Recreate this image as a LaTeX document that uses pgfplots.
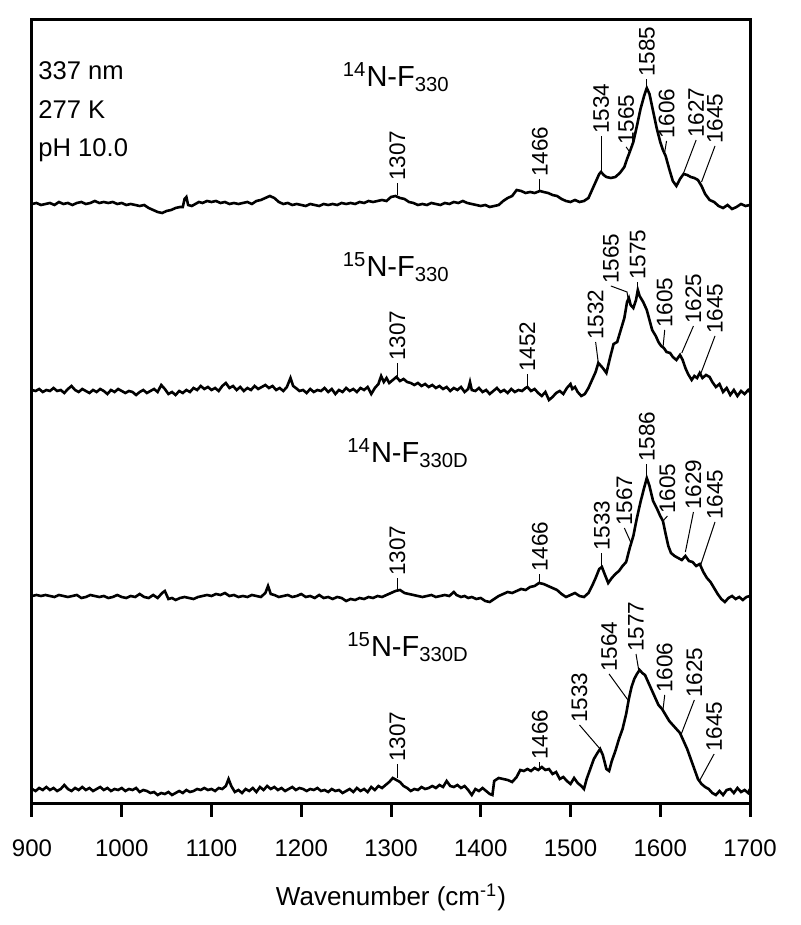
\documentclass[border=0pt]{standalone}
\usepackage{fontspec}
\setmainfont{Liberation Sans}
\usepackage{pgfplots}
\pgfplotsset{compat=1.18}
\usepackage{pgfplotstable}

% 14N-F330 (intensity above its own baseline)
\pgfplotstableread{
x y
900 0
905 1
910 -1
915 0
920 1
925 -1
930 2
935 0
940 1
945 -1
950 1
955 2
960 0
965 1
970 3
975 1
980 2
985 1
990 2
995 0
1000 1
1005 -1
1010 0
1015 -1
1020 -2
1025 -1
1030 -4
1035 -6
1040 -8
1045 -9
1050 -7
1055 -6
1060 -4
1065 -3
1068 -3
1070 5
1072 7
1074 -1
1078 -2
1082 0
1086 2
1090 1
1095 3
1100 2
1105 3
1110 1
1115 2
1120 0
1125 1
1130 0
1135 1
1140 2
1145 0
1150 3
1155 4
1160 6
1165 8
1170 6
1175 2
1180 0
1185 1
1190 -1
1195 0
1200 -1
1205 -2
1210 0
1215 -1
1220 -2
1225 0
1230 -1
1235 0
1240 -1
1245 1
1250 0
1255 1
1260 0
1265 2
1270 1
1275 3
1280 2
1285 3
1290 4
1295 3
1300 7
1305 8
1310 6
1315 5
1320 2
1325 1
1330 -1
1335 0
1340 -1
1345 1
1350 0
1355 -1
1360 1
1365 0
1370 2
1375 1
1380 3
1385 1
1390 0
1395 -1
1400 -2
1405 -1
1410 -3
1415 -2
1420 -1
1425 3
1430 6
1435 8
1440 14
1445 13
1450 11
1455 12
1460 11
1466 13
1470 12
1475 11
1480 9
1485 8
1490 5
1495 3
1500 2
1505 4
1510 2
1515 3
1520 6
1524 14
1528 22
1532 30
1534 32
1537 29
1540 27
1545 26
1550 27
1555 31
1560 37
1563 45
1566 52
1570 62
1574 78
1578 95
1582 108
1585 116
1588 110
1592 93
1596 76
1600 62
1603 54
1606 48
1610 35
1614 23
1618 18
1622 25
1626 30
1630 29
1634 27
1638 26
1642 24
1646 18
1650 10
1655 4
1660 2
1665 -2
1670 -4
1675 -1
1680 -5
1685 -3
1690 0
1695 -2
1700 -1
}\traceA

% 15N-F330
\pgfplotstableread{
x y
900 0
904 -1
908 1
912 -2
916 0
920 -1
924 2
928 -1
932 0
936 -3
940 1
944 4
948 0
952 -2
956 1
960 -1
964 -3
968 0
972 -2
976 1
980 -1
984 -4
988 0
992 -2
996 1
1000 -1
1004 -3
1008 -1
1012 -2
1016 -5
1020 -2
1024 0
1028 -3
1032 -1
1036 1
1040 -2
1044 5
1048 1
1052 -4
1056 -2
1060 -5
1064 -1
1068 -3
1072 0
1076 -2
1080 2
1084 0
1088 4
1092 1
1096 3
1100 0
1104 2
1108 -1
1112 4
1116 7
1120 2
1124 4
1128 0
1132 3
1136 -1
1140 2
1144 0
1148 4
1152 1
1156 3
1160 5
1164 2
1168 4
1172 0
1176 2
1180 -1
1184 3
1188 12
1191 4
1194 2
1198 -1
1202 0
1206 -3
1210 1
1214 -2
1218 0
1222 -1
1226 2
1230 -2
1234 1
1238 -4
1242 0
1246 -2
1250 2
1254 -1
1258 1
1262 -2
1266 2
1270 0
1274 3
1278 -4
1282 2
1286 6
1289 14
1292 8
1295 12
1298 7
1302 10
1306 13
1310 9
1314 11
1318 8
1322 7
1326 5
1330 7
1334 4
1338 6
1342 3
1346 5
1350 2
1354 4
1358 1
1362 3
1366 -1
1370 2
1374 0
1378 3
1382 -2
1386 1
1388 8
1390 0
1394 -1
1398 2
1402 -2
1406 0
1410 -4
1414 -1
1418 2
1422 -2
1426 0
1430 -3
1434 1
1438 -2
1442 0
1446 -1
1450 2
1452 3
1456 -1
1460 1
1464 -3
1468 -6
1472 -2
1476 -10
1480 -7
1484 -3
1488 -1
1492 -4
1496 2
1500 6
1502 1
1505 3
1508 -2
1512 -6
1516 -4
1520 2
1524 10
1528 18
1531 27
1536 22
1540 17
1544 32
1548 46
1552 48
1556 60
1560 72
1563 88
1565 92
1567 85
1570 82
1573 90
1575 100
1577 94
1581 88
1585 80
1588 70
1591 60
1595 54
1598 48
1601 44
1604 42
1607 38
1611 37
1614 33
1618 30
1622 35
1625 30
1628 22
1631 16
1635 10
1638 14
1641 12
1644 17
1647 12
1651 15
1655 13
1658 8
1662 3
1666 6
1670 -2
1674 2
1678 -5
1682 0
1686 -6
1690 -1
1694 -4
1698 0
1700 -2
}\traceB

% 14N-F330D
\pgfplotstableread{
x y
900 0
905 1
910 0
915 1
920 0
925 -1
930 1
935 0
940 -1
945 0
950 1
955 -2
960 -1
965 1
970 0
975 -1
980 0
985 -2
990 -1
995 1
1000 -1
1005 -2
1010 0
1015 -1
1020 2
1025 -1
1030 -2
1035 1
1040 -2
1045 3
1048 5
1052 -3
1056 -2
1060 -4
1065 -2
1070 -1
1075 -2
1080 -3
1085 -1
1090 0
1095 1
1100 0
1105 2
1110 1
1115 3
1120 0
1125 1
1130 -1
1135 0
1140 -1
1145 1
1150 0
1155 -1
1160 3
1163 10
1166 2
1170 1
1175 -1
1180 0
1185 1
1190 -1
1195 0
1200 2
1205 -1
1210 0
1215 -2
1220 1
1225 -2
1230 -1
1235 -3
1240 -1
1245 -2
1250 -5
1255 -3
1260 -4
1265 -2
1270 -3
1275 -1
1280 -2
1285 0
1290 -1
1295 1
1300 3
1305 5
1310 6
1315 3
1320 2
1325 1
1330 0
1335 -1
1340 0
1345 1
1350 -1
1355 0
1360 1
1365 0
1370 4
1373 1
1378 -1
1382 0
1386 -2
1390 -1
1395 -3
1400 -2
1405 -5
1410 -6
1415 -3
1420 0
1425 2
1430 4
1435 3
1440 5
1445 7
1450 6
1455 9
1460 10
1465 13
1470 12
1475 10
1480 8
1485 6
1490 2
1495 -1
1500 1
1505 3
1510 0
1515 -1
1520 3
1524 10
1528 18
1532 27
1535 29
1538 22
1542 13
1546 18
1550 22
1554 25
1558 30
1562 34
1566 48
1570 60
1574 78
1578 94
1582 108
1585 118
1588 110
1592 95
1596 88
1600 80
1603 75
1606 62
1609 50
1612 43
1616 40
1620 38
1624 36
1628 40
1632 35
1636 34
1640 30
1644 32
1648 24
1652 18
1656 14
1660 8
1664 2
1668 -3
1672 -6
1676 -2
1680 0
1684 -3
1688 -1
1692 -4
1696 -1
1700 0
}\traceC

% 15N-F330D
\pgfplotstableread{
x y
900 0
904 -2
908 1
912 -1
916 2
920 -1
924 1
928 -2
932 0
936 4
940 0
944 -2
948 1
952 -1
956 2
960 -1
964 1
968 -2
972 0
976 2
980 -1
984 1
988 -2
992 0
996 -1
1000 1
1004 -2
1008 0
1012 -1
1016 1
1020 -3
1024 -1
1028 -2
1032 -4
1036 -3
1040 -6
1044 -4
1048 -5
1052 -3
1056 -6
1060 -4
1064 -2
1068 -4
1072 -1
1076 -3
1080 -2
1084 0
1088 -1
1092 1
1096 -1
1100 0
1104 -2
1108 1
1112 0
1116 3
1119 10
1122 3
1126 -3
1130 -1
1134 -4
1138 0
1142 -2
1146 1
1150 -3
1154 2
1158 -1
1162 3
1166 0
1170 2
1174 -1
1178 1
1182 -2
1186 0
1190 2
1194 -1
1198 1
1202 0
1206 -2
1210 0
1214 -1
1218 1
1222 -2
1226 -1
1230 -3
1234 0
1238 -2
1242 -1
1246 -4
1250 -2
1254 0
1258 -3
1262 1
1266 -2
1270 0
1274 -3
1278 2
1282 -1
1286 3
1290 1
1294 4
1298 7
1302 11
1306 9
1310 7
1314 3
1318 1
1322 -2
1326 0
1330 -1
1334 2
1338 0
1342 1
1346 3
1350 1
1354 4
1358 2
1362 8
1366 3
1370 2
1374 4
1378 1
1382 3
1386 -1
1390 -6
1394 0
1398 -2
1402 1
1406 -2
1410 -5
1413 -6
1415 8
1420 11
1425 10
1430 9
1435 7
1440 12
1444 19
1448 18
1452 20
1456 18
1460 21
1464 19
1468 22
1472 19
1476 20
1480 15
1484 17
1488 10
1492 12
1496 8
1500 5
1504 11
1508 6
1512 3
1515 0
1518 10
1522 20
1526 30
1530 36
1533 40
1536 34
1540 20
1543 18
1546 28
1550 38
1554 50
1558 60
1562 75
1565 90
1568 102
1571 110
1574 115
1577 119
1580 116
1583 114
1586 108
1590 100
1594 92
1598 84
1602 80
1606 74
1610 68
1614 64
1618 60
1622 56
1626 48
1630 40
1634 30
1638 20
1642 10
1646 5
1650 2
1654 0
1658 -4
1662 -6
1666 -2
1670 -6
1674 -1
1678 0
1682 -4
1686 1
1690 -3
1694 -1
1698 -4
1700 0
}\traceD

\newcommand{\pk}[5]{\draw[line width=0.5pt] (axis cs:#1,#2) -- (axis cs:#3,#4) node[rotate=90,anchor=west,inner sep=0.8pt,font=\fontsize{11.25}{13}\selectfont]{#5};}
\newcommand{\pkb}[7]{\draw[line width=0.5pt] (axis cs:#1,#2) -- (axis cs:#3,#4) -- (axis cs:#5,#6) node[rotate=90,anchor=west,inner sep=0.8pt,font=\fontsize{11.25}{13}\selectfont]{#7};}

\begin{document}
\begin{tikzpicture}
\useasboundingbox (0,0) rectangle (400pt,462.5pt);
\begin{axis}[
  at={(16pt,60.5pt)}, anchor=south west,
  scale only axis, width=359pt, height=392pt,
  xmin=900, xmax=1700, ymin=0, ymax=784,
  ytick=\empty,
  xtick={900,1000,...,1700},
  xtick pos=bottom,
  tick align=outside,
  major tick length=6.5pt,
  axis line style={line width=1.5pt},
  every tick/.style={line width=1.5pt, black},
  /pgf/number format/assume math mode=true,
  /pgf/number format/set thousands separator={},
  xticklabel style={font=\fontsize{12}{14}\selectfont, anchor=base, yshift=-20pt},
  xlabel={Wavenumber (cm\textsuperscript{-1})},
  xlabel style={font=\fontsize{13}{15}\selectfont, at={(axis description cs:0.5,0)}, anchor=base, yshift=-50.5pt},
  clip=false,
]
\addplot[black, line width=1.3pt] table[x=x, y expr=\thisrow{y}+600] {\traceA};
\addplot[black, line width=1.3pt] table[x=x, y expr=\thisrow{y}+414] {\traceB};
\addplot[black, line width=1.3pt] table[x=x, y expr=\thisrow{y}+208] {\traceC};
\addplot[black, line width=1.3pt] table[x=x, y expr=\thisrow{y}+15] {\traceD};

% annotations
\node[anchor=west, inner sep=0pt, font=\fontsize{12.8}{15}\selectfont] at (axis cs:906.7,733) {337 nm};
\node[anchor=west, inner sep=0pt, font=\fontsize{12.8}{15}\selectfont] at (axis cs:906.7,694) {277 K};
\node[anchor=west, inner sep=0pt, font=\fontsize{12.8}{15}\selectfont] at (axis cs:906.7,654) {pH 10.0};

\node[anchor=base west, inner sep=0pt, font=\fontsize{14.5}{17}\selectfont] at (axis cs:1246,717) {\textsuperscript{14}N-F\textsubscript{330}};
\node[anchor=base west, inner sep=0pt, font=\fontsize{14.5}{17}\selectfont] at (axis cs:1246,527) {\textsuperscript{15}N-F\textsubscript{330}};
\node[anchor=base west, inner sep=0pt, font=\fontsize{14.5}{17}\selectfont] at (axis cs:1251,341) {\textsuperscript{14}N-F\textsubscript{330D}};
\node[anchor=base west, inner sep=0pt, font=\fontsize{14.5}{17}\selectfont] at (axis cs:1251,147) {\textsuperscript{15}N-F\textsubscript{330D}};

% peak labels trace A
\pk{1307}{609}{1307}{621}{1307}
\pk{1466}{613}{1466}{625}{1466}
\pk{1534}{632}{1534}{668}{1534}
\pk{1566}{652}{1562}{657}{1565}
\pk{1585}{716}{1585}{725}{1585}
\pk{1605}{652}{1607}{663}{1606}
\pk{1626}{631}{1640}{664}{1627}
\pk{1646}{622}{1661}{658}{1645}
% trace B
\pk{1307}{427}{1307}{441}{1307}
\pk{1452}{417}{1452}{430}{1452}
\pk{1531}{441}{1528}{462}{1532}
\pkb{1564}{506}{1563}{512}{1545}{518}{1565}
\pk{1575}{514}{1575}{522}{1575}
\pk{1603}{456}{1605}{474}{1605}
\pk{1624}{451}{1637}{478}{1625}
\pk{1645}{430}{1661}{468}{1645}
% trace C
\pk{1307}{214}{1307}{226}{1307}
\pk{1466}{221}{1466}{230}{1466}
\pk{1535}{237}{1535}{251}{1533}
\pk{1567}{262}{1560}{276}{1567}
\pk{1585}{326}{1585}{340}{1586}
\pk{1604}{284}{1608}{288}{1605}
\pk{1628}{252}{1637}{292}{1629}
\pk{1645}{239}{1661}{282}{1645}
% trace D
\pk{1307}{26}{1307}{40}{1307}
\pk{1466}{36}{1466}{42}{1466}
\pk{1533}{55}{1510}{79}{1533}
\pk{1564}{104}{1543}{130}{1564}
\pk{1576}{134}{1573}{150}{1577}
\pk{1603}{94}{1605}{109}{1606}
\pk{1623}{69}{1638}{104}{1625}
\pk{1643}{22}{1660}{50}{1645}
\end{axis}
\end{tikzpicture}
\end{document}
